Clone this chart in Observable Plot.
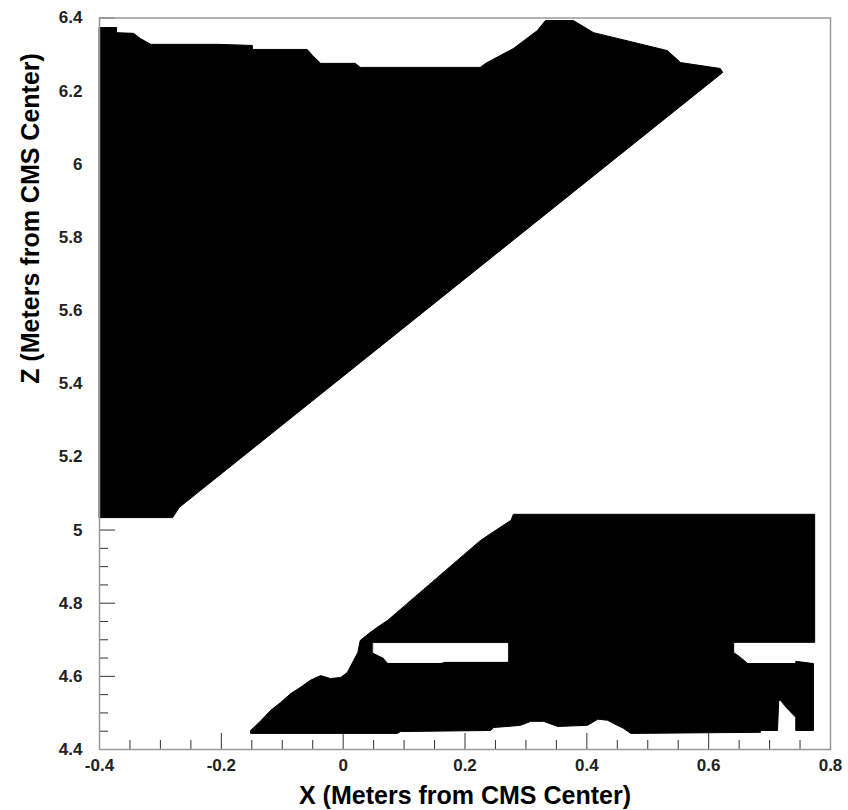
<!DOCTYPE html>
<html>
<head>
<meta charset="utf-8">
<script src="https://cdn.jsdelivr.net/npm/d3@7"></script>
<script src="https://cdn.jsdelivr.net/npm/@observablehq/plot@0.6"></script>
<style>
  html, body { margin: 0; padding: 0; background: #fff; }
  #chart { width: 848px; height: 810px; }
</style>
</head>
<body>
<div id="chart"></div>
<script>
// Upper region outline (X, Z in meters)
const upperX = [-0.400,-0.372,-0.372,-0.344,-0.333,-0.316,-0.206,-0.149,-0.149,-0.059,-0.050,-0.037,0.020,0.028,0.225,0.234,0.280,0.319,0.332,0.378,0.411,0.532,0.554,0.619,0.623,-0.269,-0.280,-0.400];
const upperZ = [6.374,6.374,6.360,6.358,6.344,6.328,6.328,6.325,6.314,6.314,6.297,6.276,6.276,6.265,6.265,6.276,6.317,6.366,6.393,6.393,6.360,6.311,6.278,6.262,6.251,5.062,5.034,5.034];

// Lower region outline
const lowerX = [0.280,0.774,0.774,0.641,0.641,0.652,0.664,0.743,0.743,0.772,0.772,0.743,0.743,0.729,0.718,0.715,0.713,0.685,0.685,0.472,0.460,0.450,0.434,0.418,0.401,0.352,0.329,0.308,0.291,0.247,0.242,0.094,0.089,-0.152,-0.152,-0.136,-0.119,-0.103,-0.086,-0.070,-0.054,-0.037,-0.021,-0.004,0.007,0.017,0.024,0.028,0.042,0.056,0.073,0.225,0.250,0.275];
const lowerZ = [5.043,5.043,4.693,4.693,4.665,4.652,4.635,4.635,4.641,4.635,4.452,4.452,4.488,4.512,4.534,4.534,4.452,4.452,4.447,4.444,4.458,4.466,4.480,4.483,4.466,4.463,4.477,4.477,4.466,4.460,4.452,4.449,4.444,4.444,4.452,4.477,4.507,4.528,4.553,4.570,4.589,4.602,4.594,4.597,4.611,4.643,4.665,4.698,4.717,4.734,4.753,4.971,4.999,5.026];

// Empty gap inside the lower region
const holeX = [0.050,0.270,0.270,0.168,0.160,0.073,0.066,0.050];
const holeZ = [4.690,4.690,4.641,4.641,4.638,4.638,4.652,4.665];

// Axes
const xMajor = [-0.4,-0.2,0,0.2,0.4,0.6,0.8];
const xLabels = ["-0.4","-0.2","0","0.2","0.4","0.6","0.8"];
const xMinor = [-0.35,-0.3,-0.25,-0.15,-0.1,-0.05,0.05,0.1,0.15,0.25,0.3,0.35,0.45,0.5,0.55,0.65,0.7,0.75];
const yMajor = [4.4,4.6,4.8,5.0,5.2,5.4,5.6,5.8,6.0,6.2,6.4];
const yLabels = ["4.4","4.6","4.8","5","5.2","5.4","5.6","5.8","6","6.2","6.4"];
const yMinor = [4.45,4.5,4.55,4.65,4.7,4.75,4.85,4.9,4.95,5.05,5.1,5.15,5.25,5.3,5.35,5.45,5.5,5.55,5.65,5.7,5.75,5.85,5.9,5.95,6.05,6.1,6.15,6.25,6.3,6.35];
const xTitle = "X (Meters from CMS Center)";
const yTitle = "Z (Meters from CMS Center)";

const toRows = (xs, zs) => xs.map((x, i) => ({x, z: zs[i]}));
const upper = toRows(upperX, upperZ);
const lower = toRows(lowerX, lowerZ);
const hole = toRows(holeX, holeZ);

const font = "'Liberation Sans', Arial, Helvetica, sans-serif";

const chart = Plot.plot({
  width: 848,
  height: 810,
  marginLeft: 99,
  marginRight: 18,
  marginTop: 17.5,
  marginBottom: 61,
  style: {fontFamily: font, background: "#fff", color: "#000"},
  x: {domain: [-0.4, 0.8]},
  y: {domain: [4.4, 6.4]},
  marks: [
    Plot.axisX({ticks: xMinor, tickSize: -9, tickFormat: () => "", label: null, stroke: "#333"}),
    Plot.axisX({ticks: xMajor, tickSize: -16, tickFormat: () => "", label: null, stroke: "#333"}),
    Plot.axisY({ticks: yMinor, tickSize: -9, tickFormat: () => "", label: null, stroke: "#333"}),
    Plot.axisY({ticks: yMajor, tickSize: -16, tickFormat: () => "", label: null, stroke: "#333"}),
    Plot.line(upper, {x: "x", y: "z", curve: "linear-closed", fill: "#000", stroke: "#000", strokeWidth: 1}),
    Plot.line(lower, {x: "x", y: "z", curve: "linear-closed", fill: "#000", stroke: "#000", strokeWidth: 1}),
    Plot.line(hole, {x: "x", y: "z", curve: "linear-closed", fill: "#fff", stroke: "#fff", strokeWidth: 1}),
    Plot.frame({stroke: "#999", strokeWidth: 1.5}),
    Plot.text(xMajor, {x: d => d, frameAnchor: "bottom", dy: 16, text: (d, i) => xLabels[i], fontSize: 17, fontWeight: "bold", fill: "#222", lineAnchor: "middle"}),
    Plot.text(yMajor, {y: d => d, frameAnchor: "left", dx: -17, text: (d, i) => yLabels[i], textAnchor: "end", fontSize: 17, fontWeight: "bold", fill: "#222", lineAnchor: "middle"}),
    Plot.text([xTitle], {text: d => d, frameAnchor: "bottom", dy: 46, fontSize: 25, fontWeight: "bold", fill: "#000", lineAnchor: "middle"}),
    Plot.text([yTitle], {text: d => d, frameAnchor: "left", dx: -69, rotate: -90, fontSize: 25, fontWeight: "bold", fill: "#000", lineAnchor: "middle"})
  ]
});
document.getElementById("chart").appendChild(chart);
</script>
</body>
</html>
